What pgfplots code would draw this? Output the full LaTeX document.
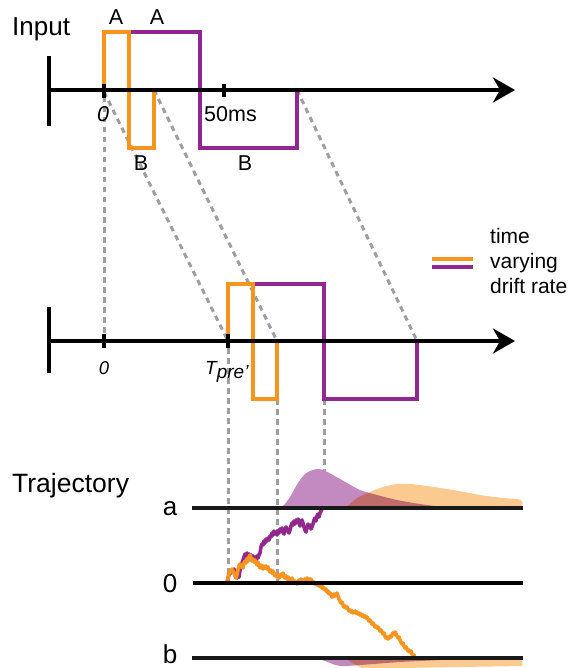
\documentclass[border=0pt]{standalone}
\usepackage{fontspec}
\setmainfont{Liberation Sans}
\usepackage{pgfplots}
\pgfplotsset{compat=1.18}
\usetikzlibrary{arrows.meta}
\definecolor{myorange}{RGB}{247,148,30}
\definecolor{mypurple}{RGB}{146,39,143}
\definecolor{dashgrey}{RGB}{158,158,158}
\definecolor{purplefill}{RGB}{194,138,193}
\definecolor{orangefill}{RGB}{250,202,144}
\begin{document}
\begin{tikzpicture}
\begin{axis}[width=570pt,height=668pt,scale only axis,
  xmin=0,xmax=570,ymin=0,ymax=668,y dir=reverse,hide axis,clip=false]
\path (axis cs:0,0) rectangle (axis cs:570,668);
% ---------- dashed connectors
\pgfplotsset{dsh/.style={dashgrey,line width=3pt,dash pattern=on 5.5pt off 4.5pt}}
\addplot[dsh] coordinates {(104,97) (104,334)};
\addplot[dsh] coordinates {(104,92) (228,341)};
\addplot[dsh] coordinates {(154,90) (277,341)};
\addplot[dsh] coordinates {(297,90) (417,341)};
\addplot[dsh] coordinates {(228,348) (228,583)};
\addplot[dsh] coordinates {(277,399) (277,583)};
\addplot[dsh] coordinates {(324,399) (324,508)};
% ---------- top signals
\addplot[mypurple,line width=3.2pt] coordinates {(104,90) (104,32) (200,32) (200,148) (297,148) (297,90)};
\addplot[myorange,line width=3.2pt] coordinates {(70,90) (104,90) (104,32) (129,32) (129,148) (154,148) (154,90)};
% top axis
\addplot[black,line width=3.6pt,-{Stealth[length=22pt,width=25pt,inset=7pt]}] coordinates {(49,90) (515,90)};
\addplot[black,line width=4pt] coordinates {(49,56) (49,126)};
\addplot[black,line width=3.6pt] coordinates {(104,84) (104,98)};
\addplot[black,line width=3.6pt] coordinates {(224,84) (224,97)};
% ---------- middle signals
\addplot[mypurple,line width=3.2pt] coordinates {(228,341) (228,284) (324,284) (324,399) (417,399) (417,341)};
\addplot[myorange,line width=3.2pt] coordinates {(228,341) (228,284) (253,284) (253,399) (277,399) (277,341)};
\addplot[black,line width=3.6pt,-{Stealth[length=22pt,width=25pt,inset=7pt]}] coordinates {(49,341) (515,341)};
\addplot[black,line width=4pt] coordinates {(49,307) (49,373)};
\addplot[black,line width=3.6pt] coordinates {(104,334) (104,348)};
\addplot[black,line width=3.6pt] coordinates {(228,334) (228,348)};
% legend
\addplot[myorange,line width=3.4pt] coordinates {(432,259) (473,259)};
\addplot[mypurple,line width=3.4pt] coordinates {(432,267) (473,267)};
% ---------- densities
\addplot[fill=purplefill,draw=none,smooth,tension=0.5] coordinates {(277,508) (283,506) (290,497) (295,488) (300,480) (305,474) (310,471) (317,469) (323,470) (333,475) (347,483) (360,490) (377,495) (397,500) (420,504) (443,507) (460,508)};
\addplot[fill=orangefill,draw=none,smooth,tension=0.5,blend mode=multiply] coordinates {(343,508) (350,504) (357,498) (370,492) (383,487) (397,484) (410,484) (427,486) (453,490) (480,495) (503,498) (521,500) (522,508)};
\addplot[fill=purplefill,draw=none,smooth,tension=0.5] coordinates {(315,658) (325,661) (340,666) (360,665) (400,662) (440,660) (470,658)};
\addplot[fill=orangefill,draw=none,blend mode=multiply] coordinates {(345,658) (352,663) (362,668) (400,668) (460,667) (522,666) (522,659) (480,658)};
% ---------- trajectories
\addplot[mypurple,line width=3.6pt,line join=round] coordinates {(227,582) (228,578) (229,575) (230,571) (231,573) (232,570) (233,572) (234,569) (235,574) (236,577) (237,578) (238,575) (239,577) (240,570) (241,566) (242,563) (243,560) (244,557) (245,554) (246,556) (247,553) (248,556) (249,554) (250,557) (251,555) (252,558) (253,556) (254,559) (255,557) (256,560) (257,556) (258,558) (259,555) (260,553) (261,547) (262,544) (263,545) (264,541) (265,543) (266,539) (267,541) (268,538) (269,540) (270,536) (271,537) (272,533) (273,535) (274,531) (275,534) (276,532) (277,535) (278,531) (279,533) (280,529) (281,531) (282,528) (283,532) (284,534) (285,530) (286,527) (287,529) (288,531) (289,533) (290,530) (291,526) (292,523) (293,525) (294,521) (295,524) (296,520) (297,522) (298,519) (299,523) (300,526) (301,522) (302,520) (303,523) (304,527) (305,530) (306,532) (307,528) (308,524) (309,527) (310,525) (311,529) (312,527) (313,524) (314,520) (315,518) (316,521) (317,516) (318,514) (319,517) (320,513) (321,511) (322,509) (323,507)};
\addplot[myorange,line width=3.6pt,line join=round] coordinates {(227,582) (228,578) (229,574) (230,570) (231,572) (232,569) (233,571) (234,573) (235,576) (236,578) (237,575) (238,570) (239,566) (240,564) (241,567) (242,565) (243,568) (244,563) (245,561) (246,563) (247,559) (248,561) (249,557) (250,555) (251,558) (252,561) (253,559) (254,562) (255,560) (256,563) (257,565) (258,562) (259,566) (260,568) (261,565) (262,567) (263,569) (264,566) (265,568) (266,566) (267,569) (268,567) (269,570) (270,572) (271,570) (272,573) (273,571) (274,574) (275,576) (276,574) (277,577) (278,575) (279,578) (280,576) (281,574) (282,576) (283,573) (284,576) (285,578) (286,576) (287,579) (288,577) (289,580) (290,582) (291,580) (292,578) (293,581) (294,583) (295,581) (296,583) (297,584) (298,582) (299,580) (300,582) (301,579) (302,581) (303,583) (304,581) (305,579) (306,580) (307,578) (308,580) (309,579) (310,581) (311,579) (312,581) (313,583) (314,582) (315,584) (316,583) (317,585) (318,584) (319,586) (320,585) (321,587) (322,586) (323,589) (324,588) (325,590) (326,589) (327,592) (328,591) (329,594) (330,593) (331,595) (332,597) (333,596) (334,594) (335,596) (336,595) (337,593) (338,596) (339,599) (340,601) (341,603) (342,602) (343,605) (344,607) (345,606) (346,608) (347,607) (348,609) (349,611) (350,610) (351,612) (352,611) (353,613) (354,612) (355,611) (356,613) (357,612) (358,614) (359,613) (360,615) (361,614) (362,616) (363,615) (364,617) (365,616) (366,618) (367,617) (368,619) (369,621) (370,620) (371,622) (372,624) (373,623) (374,625) (375,627) (376,626) (377,628) (378,627) (379,629) (380,631) (381,630) (382,632) (383,634) (384,633) (385,636) (386,638) (387,637) (388,639) (389,638) (390,636) (391,637) (392,635) (393,633) (394,634) (395,632) (396,634) (397,636) (398,638) (399,637) (400,640) (401,642) (402,644) (403,643) (404,646) (405,648) (406,647) (407,649) (408,651) (409,650) (410,652) (411,651) (412,654) (413,656) (414,655) (415,658)};
% ---------- bound lines
\addplot[black!90,line width=4pt] coordinates {(192,508) (523,508)};
\addplot[black,line width=3.3pt] coordinates {(193,583) (523,583)};
\addplot[black!90,line width=4pt] coordinates {(192,658) (523,658)};
% ---------- texts
\node[anchor=base west,inner sep=0] at (axis cs:12,36) {\fontsize{26}{30}\selectfont Input};
\node[anchor=base,inner sep=0] at (axis cs:116,25) {\fontsize{21.5}{25}\selectfont A};
\node[anchor=base,inner sep=0] at (axis cs:157,25) {\fontsize{21.5}{25}\selectfont A};
\node[anchor=base,inner sep=0] at (axis cs:141,171) {\fontsize{21.5}{25}\selectfont B};
\node[anchor=base,inner sep=0] at (axis cs:245,171) {\fontsize{21.5}{25}\selectfont B};
\node[anchor=base,inner sep=0] at (axis cs:103,122) {\fontsize{21.5}{25}\selectfont\itshape 0};
\node[anchor=base west,inner sep=0] at (axis cs:204,122) {\fontsize{21.5}{25}\selectfont 50ms};
\node[anchor=base,inner sep=0] at (axis cs:104,374) {\fontsize{18.5}{22}\selectfont\itshape 0};
\node[anchor=base west,inner sep=0] at (axis cs:205,374) {\fontsize{19}{22}\selectfont\itshape T\raisebox{-4pt}{pre'}};
\node[anchor=base west,inner sep=0] at (axis cs:490,243) {\fontsize{21}{25}\selectfont time};
\node[anchor=base west,inner sep=0] at (axis cs:490,268) {\fontsize{21}{25}\selectfont varying};
\node[anchor=base west,inner sep=0] at (axis cs:490,293) {\fontsize{21}{25}\selectfont drift rate};
\node[anchor=base west,inner sep=0] at (axis cs:12,492) {\fontsize{26.5}{30}\selectfont Trajectory};
\node[anchor=base,inner sep=0] at (axis cs:170,515) {\fontsize{26}{30}\selectfont a};
\node[anchor=base,inner sep=0] at (axis cs:170,592) {\fontsize{26}{30}\selectfont 0};
\node[anchor=base,inner sep=0] at (axis cs:170,663) {\fontsize{26}{30}\selectfont b};
\end{axis}
\end{tikzpicture}
\end{document}
